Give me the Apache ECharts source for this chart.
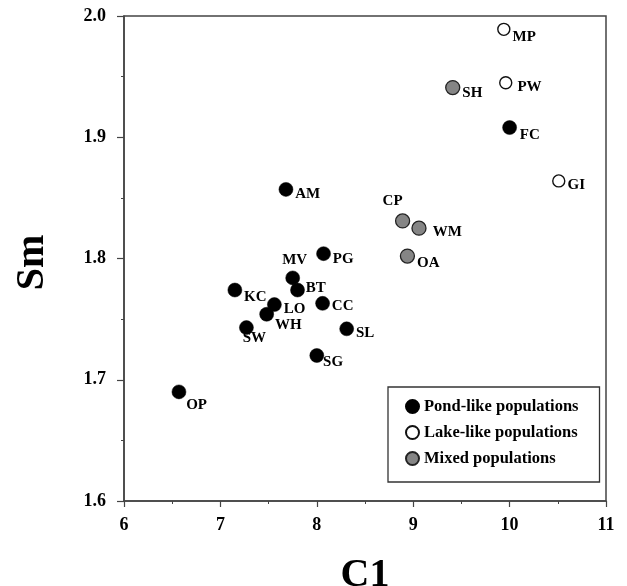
<!DOCTYPE html>
<html>
<head>
<meta charset="utf-8">
<script src="https://cdn.jsdelivr.net/npm/echarts@6/dist/echarts.min.js"></script>
<style>
  html, body { margin: 0; padding: 0; background: #fff; }
  #main { width: 627px; height: 586px; }
</style>
</head>
<body>
<div id="main"></div>
<script>
// site codes, C1 and Sm values per group
var pondNames = ['FC', 'AM', 'PG', 'MV', 'BT', 'KC', 'LO', 'CC', 'WH', 'SW', 'SL', 'SG', 'OP'];
var pondC1 = [10.0, 7.68, 8.07, 7.75, 7.80, 7.15, 7.56, 8.06, 7.48, 7.27, 8.31, 8.00, 6.57];
var pondSm = [1.908, 1.857, 1.804, 1.784, 1.774, 1.774, 1.762, 1.763, 1.754, 1.743, 1.742, 1.720, 1.690];

var lakeNames = ['MP', 'PW', 'GI'];
var lakeC1 = [9.94, 9.96, 10.51];
var lakeSm = [1.989, 1.945, 1.864];

var mixedNames = ['SH', 'CP', 'WM', 'OA'];
var mixedC1 = [9.41, 8.89, 9.06, 8.94];
var mixedSm = [1.941, 1.831, 1.825, 1.802];

var xTicks = [6, 7, 8, 9, 10, 11];
var yTicks = [1.6, 1.7, 1.8, 1.9, 2.0];

// label placement tweaks (px)
var labelTweak = {
    MP: ['right', [-3, 8]], SH: ['right', [-3, 6]], PW: ['right', [0, 4]], FC: ['right', [-2, 8]],
    GI: ['right', [-3, 4]], AM: ['right', [-3, 5]], PG: ['right', [-3, 5]], OA: ['right', [-3, 7]],
    CP: ['top', [-10, 0]], MV: ['top', [2, 2]], WM: ['right', [1, 4]], BT: ['right', [-4, -2]],
    KC: ['right', [-3, 7]], LO: ['right', [-3, 5]], CC: ['right', [-3, 3]], WH: ['right', [-4, 11]],
    SW: ['right', [-16, 11]], SL: ['right', [-3, 4]], SG: ['right', [-6, 7]], OP: ['right', [-5, 13]]
};

var serif = '"Liberation Serif", "DejaVu Serif", serif';

function buildData(names, xs, ys) {
    var out = [];
    for (var i = 0; i < names.length; i++) {
        var t = labelTweak[names[i]] || ['right', [0, 0]];
        out.push({
            name: names[i],
            value: [xs[i], ys[i]],
            label: { position: t[0], offset: t[1] }
        });
    }
    return out;
}

var labelStyle = {
    show: true,
    formatter: '{b}',
    color: '#000',
    fontFamily: serif,
    fontWeight: 'bold',
    fontSize: 15,
    distance: 5
};

var myChart = echarts.init(document.getElementById('main'));

var option = {
    backgroundColor: '#fff',
    animation: false,
    grid: {
        left: 124, right: 21, top: 16, bottom: 85,
        containLabel: false,
        outerBoundsMode: 'none',
        show: true, borderColor: '#444', borderWidth: 1.5, backgroundColor: 'transparent'
    },
    legend: {
        orient: 'vertical',
        left: 388,
        top: 387,
        padding: [11, 21, 15, 17],
        itemGap: 9,
        itemWidth: 13,
        itemHeight: 13,
        borderColor: '#333',
        borderWidth: 1.3,
        backgroundColor: '#fff',
        textStyle: { fontFamily: serif, fontWeight: 'bold', fontSize: 16.5, color: '#000' },
        data: [
            { name: 'Pond-like populations', icon: 'circle' },
            { name: 'Lake-like populations', icon: 'circle' },
            { name: 'Mixed populations', icon: 'circle' }
        ]
    },
    xAxis: {
        type: 'value',
        min: xTicks[0],
        max: xTicks[xTicks.length - 1],
        interval: 1,
        name: 'C1',
        nameLocation: 'middle',
        nameGap: 55,
        nameTextStyle: { fontFamily: serif, fontWeight: 'bold', fontSize: 40, color: '#000' },
        axisLine: { show: true, lineStyle: { color: '#444', width: 1.5 } },
        axisTick: { show: true, inside: false, length: 6, lineStyle: { color: '#444', width: 1.2 } },
        minorTick: { show: true, splitNumber: 2, length: 3, lineStyle: { color: '#444', width: 1 } },
        axisLabel: { fontFamily: serif, fontWeight: 'bold', fontSize: 18, color: '#000', margin: 15 },
        splitLine: { show: false }
    },
    yAxis: {
        type: 'value',
        min: yTicks[0],
        max: yTicks[yTicks.length - 1],
        interval: 0.1,
        name: 'Sm',
        nameLocation: 'middle',
        nameGap: 71,
        nameRotate: 90,
        nameTextStyle: { fontFamily: serif, fontWeight: 'bold', fontSize: 40, color: '#000', padding: [0, 8, 0, 0] },
        axisLine: { show: true, lineStyle: { color: '#444', width: 1.5 } },
        axisTick: { show: true, inside: false, length: 7, lineStyle: { color: '#444', width: 1.2 } },
        minorTick: { show: true, splitNumber: 2, length: 3, lineStyle: { color: '#444', width: 1 } },
        axisLabel: {
            fontFamily: serif, fontWeight: 'bold', fontSize: 18, color: '#000', margin: 18,
            formatter: function (v) { return v.toFixed(1); }
        },
        splitLine: { show: false }
    },
    series: [
        {
            name: 'Pond-like populations',
            type: 'scatter',
            symbolSize: 14,
            itemStyle: { color: '#000', borderColor: '#000', borderWidth: 0.5, opacity: 1 },
            label: labelStyle,
            data: buildData(pondNames, pondC1, pondSm)
        },
        {
            name: 'Lake-like populations',
            type: 'scatter',
            symbolSize: 12,
            itemStyle: { color: '#fff', borderColor: '#111', borderWidth: 1.4, opacity: 1 },
            label: labelStyle,
            data: buildData(lakeNames, lakeC1, lakeSm)
        },
        {
            name: 'Mixed populations',
            type: 'scatter',
            symbolSize: 14,
            itemStyle: { color: '#858585', borderColor: '#222', borderWidth: 1.3, opacity: 1 },
            label: labelStyle,
            data: buildData(mixedNames, mixedC1, mixedSm)
        }
    ]
};

myChart.setOption(option);
</script>
</body>
</html>
